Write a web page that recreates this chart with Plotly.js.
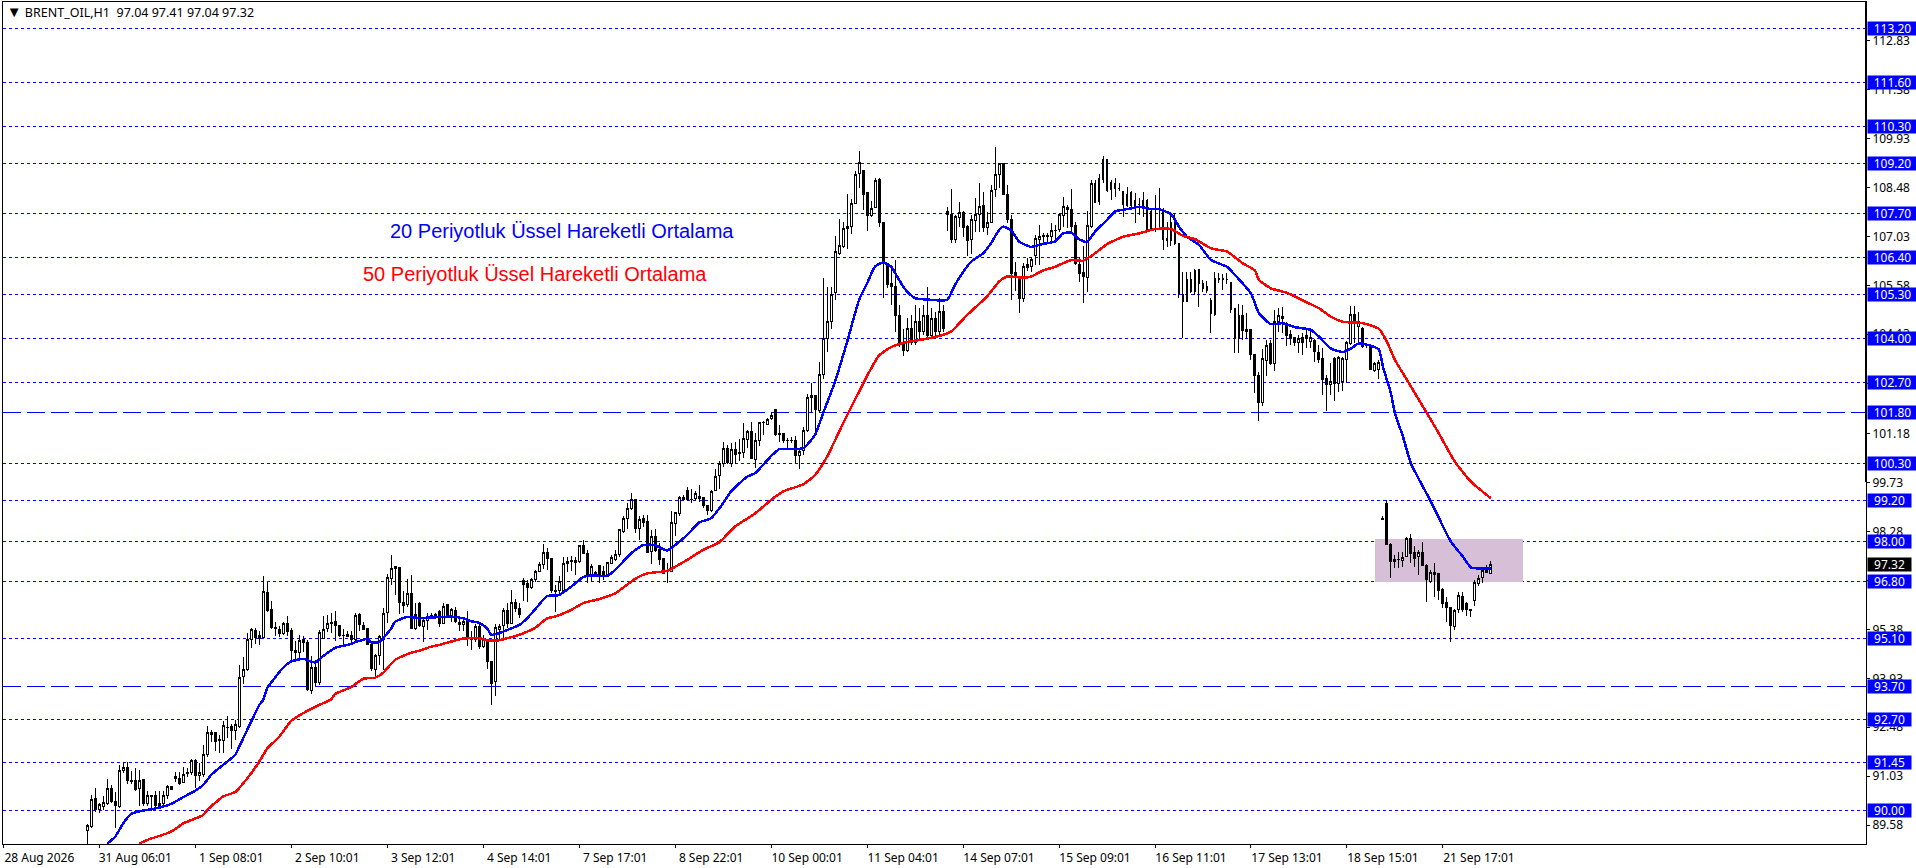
<!DOCTYPE html>
<html>
<head>
<meta charset="utf-8">
<script src="https://cdn.plot.ly/plotly-3.0.1.min.js"></script>
<style>html,body{margin:0;padding:0;background:#fff}#plot{width:1916px;height:868px}#plot svg path{shape-rendering:crispEdges!important}</style>
</head>
<body>
<div id="plot"></div>
<script>
// hourly bars, one block per time-axis label, rows are open, high, low, close
var firstBar = 21;
var barsAug28 = [[89.42,89.62,88.95,89.56],[89.54,90.47,89.5,90.35],[90.36,90.67,89.98,90.03]];
var barsAug31 = [[90.03,90.23,89.93,90.18],[90.13,90.45,90.03,90.26],[90.21,90.94,90.18,90.67],[90.67,90.77,90.23,90.28],[90.29,90.57,89.49,90.17],[90.13,91.37,90.1,91.2],[91.2,91.46,91.12,91.3],[91.3,91.46,90.8,90.9],[90.91,91.17,90.8,90.86],[90.89,91.27,90.58,90.64],[90.66,91.22,90.15,90.89],[90.92,90.94,90.16,90.21],[90.23,90.58,90.15,90.45],[90.42,90.48,90.01,90.45],[90.45,90.6,90.13,90.15],[90.23,90.6,90.13,90.17],[90.21,90.58,90.18,90.45],[90.47,90.77,90.35,90.71],[90.71,90.71,90.65,90.65],[91.01,91.15,90.87,90.96],[90.97,91.14,90.77,90.82],[90.84,91.3,90.84,91.09],[91.11,91.27,91.02,91.14],[91.14,91.53,91.07,91.51]];
var barsSep1 = [[91.51,91.55,90.67,91.04],[91.05,91.41,90.9,91.15],[91.09,91.96,91.02,91.68],[91.66,92.52,91.59,92.33],[92.34,92.4,92.03,92.27],[92.32,92.35,91.78,92.06],[92.13,92.26,91.73,92.1],[92.09,92.68,91.73,92.52],[92.46,92.82,92.16,92.47],[92.5,92.58,91.83,92.38],[92.38,92.7,92.11,92.55],[92.5,94.32,92.47,93.96],[93.98,94.56,93.77,94.2],[94.18,95.27,94.16,95.09],[95.09,95.43,94.82,95.37],[95.34,95.41,94.95,95.13],[95.19,95.32,94.92,95.1],[95.14,96.95,95.12,96.51],[96.49,96.8,95.91,95.93],[95.96,96.23,95.4,95.43],[95.44,95.61,95.19,95.42],[95.39,95.48,95.17,95.25],[95.25,95.59,95.22,95.55],[95.55,95.78,95.19,95.32]];
var barsSep2 = [[95.34,95.41,94.48,94.77],[94.77,95.04,94.48,94.71],[94.71,95.22,94.48,95.06],[95.07,95.19,94.72,95.0],[95.0,95.07,93.57,93.61],[93.57,94.58,93.47,94.26],[94.26,94.48,93.69,93.8],[93.82,95.35,93.74,95.3],[95.1,95.78,95.09,95.39],[95.41,95.81,95.29,95.56],[95.57,95.88,95.27,95.58],[95.61,95.93,95.04,95.51],[95.51,95.51,95.17,95.2],[95.2,95.39,94.89,95.19],[95.17,95.32,95.15,95.24],[95.2,95.32,94.97,95.09],[95.07,95.87,95.04,95.78],[95.81,95.86,95.32,95.53],[95.51,95.61,95.37,95.39],[95.4,95.41,94.92,94.93],[94.93,94.93,94.16,94.21],[94.2,94.64,93.96,94.61],[94.61,95.22,94.33,95.17],[95.07,96.01,94.18,95.86]];
var barsSep3 = [[95.88,97.02,95.58,96.93],[96.89,97.58,96.7,97.19],[97.24,97.26,96.4,97.2],[97.23,97.23,95.84,96.18],[96.19,96.52,95.86,96.09],[96.11,96.87,96.04,96.45],[96.45,97.0,95.38,95.41],[95.4,96.16,95.35,95.81],[96.16,96.2,95.45,95.49],[95.48,95.76,95.02,95.66],[95.64,95.86,95.37,95.74],[95.75,95.86,95.74,95.78],[95.83,95.88,95.74,95.8],[95.91,95.96,95.44,95.56],[95.56,96.17,95.54,96.06],[96.11,96.14,95.71,95.74],[95.76,96.01,95.61,95.98],[95.94,96.06,95.58,95.61],[95.59,95.76,95.32,95.53],[95.53,95.74,95.33,95.62],[95.61,95.93,94.9,95.12],[95.12,95.32,94.77,95.07],[95.07,95.53,95.02,95.48],[95.48,95.56,94.79,94.87]];
var barsSep4 = [[94.87,95.22,94.84,95.07],[95.07,95.07,94.2,94.43],[94.43,94.43,93.14,93.78],[93.85,95.53,93.4,95.43],[95.39,95.53,95.07,95.46],[95.49,96.01,95.07,95.93],[95.93,96.16,95.41,95.56],[95.56,96.55,95.53,96.18],[96.18,96.27,95.91,96.0],[96.01,96.16,95.73,95.83],[96.84,96.9,96.22,96.72],[96.75,96.85,96.2,96.61],[96.63,96.9,96.57,96.85],[96.87,97.14,96.8,97.11],[97.09,97.39,97.09,97.32],[97.31,97.91,97.16,97.67],[97.67,97.79,97.14,97.49],[97.49,97.49,96.45,96.53],[96.52,96.7,95.91,96.53],[96.53,96.95,96.45,96.8],[96.53,97.54,96.5,97.34],[97.34,97.54,97.09,97.4],[97.43,97.56,97.12,97.39],[97.43,97.54,96.99,97.37]];
var barsSep7 = [[97.38,97.89,97.34,97.87],[97.87,98.03,97.62,97.64],[97.62,97.74,96.75,96.95],[96.95,97.32,96.82,97.26],[96.99,97.11,96.95,97.06],[97.29,97.29,96.75,96.95],[97.09,97.26,96.85,96.95],[96.99,97.39,96.95,97.36],[97.34,97.59,97.32,97.5],[97.44,97.74,97.42,97.59],[97.59,98.35,97.54,98.33],[98.28,98.75,98.23,98.67],[98.66,99.14,98.35,98.97],[98.97,99.42,98.92,99.22],[99.22,99.22,98.25,98.36],[98.36,98.75,98.03,98.65],[98.66,98.77,98.43,98.55],[98.57,98.77,97.64,97.66],[97.69,98.33,97.32,98.15],[98.15,98.36,97.69,97.72],[97.74,97.93,97.29,97.44],[97.47,97.47,97.01,97.04],[97.12,97.34,96.77,97.09],[97.09,98.89,97.07,98.56]];
var barsSep8 = [[98.53,98.87,98.15,98.85],[98.82,99.34,98.74,99.28],[99.28,99.37,99.2,99.24],[99.49,99.6,99.2,99.22],[99.24,99.54,99.14,99.23],[99.27,99.47,99.2,99.4],[99.32,99.66,99.17,99.26],[99.28,99.3,98.97,99.05],[99.06,99.06,98.77,98.92],[98.9,99.52,98.87,99.48],[99.5,100.13,99.47,99.92],[99.94,100.36,99.55,100.31],[100.31,100.94,100.21,100.75],[100.75,100.85,100.29,100.33],[100.31,100.9,100.19,100.7],[100.72,100.93,100.29,100.58],[100.63,101.02,100.38,100.6],[100.63,101.49,100.45,101.05],[101.02,101.29,100.75,101.24],[101.26,101.54,100.42,100.45],[100.43,101.19,100.16,100.99],[100.99,101.54,100.83,101.52],[101.52,101.56,101.15,101.51],[101.47,101.66,101.44,101.61]];
var barsSep10 = [[101.62,101.82,101.59,101.71],[101.89,101.92,101.12,101.17],[101.19,101.44,100.95,101.17],[101.19,101.19,100.92,100.97],[100.98,101.05,100.75,100.97],[100.97,101.08,100.9,100.98],[100.97,101.1,100.31,100.53],[100.55,100.75,100.14,100.67],[100.68,101.37,100.55,101.27],[101.27,102.36,101.24,102.26],[102.26,102.68,101.79,102.31],[102.33,102.34,101.15,101.89],[101.87,103.3,101.8,102.95],[102.95,105.79,102.8,104.0],[104.0,105.52,103.6,104.5],[104.5,105.52,104.3,105.31],[105.36,107.04,105.15,106.59],[106.53,107.55,106.48,106.75],[106.73,107.45,106.68,107.27],[107.27,108.29,106.66,107.32],[107.32,108.13,107.09,108.01],[108.01,108.98,107.98,108.87],[108.9,109.56,108.46,109.23],[108.99,108.99,107.81,108.28]];
var barsSep11 = [[108.33,108.33,107.2,107.65],[107.65,108.08,107.6,107.86],[107.88,108.75,107.86,108.7],[108.73,108.75,107.32,107.44],[107.45,107.45,105.2,106.23],[106.18,106.23,105.49,105.62],[105.64,106.18,105.0,105.54],[105.54,106.33,104.2,104.7],[104.7,105.0,103.75,103.9],[103.9,104.3,103.5,103.65],[103.65,104.6,103.6,104.3],[104.3,104.7,103.8,103.9],[103.9,105.0,103.8,104.5],[104.5,104.9,104.0,104.2],[104.2,105.0,104.1,104.7],[104.7,105.52,103.95,104.1],[104.1,104.9,104.0,104.6],[104.6,104.8,104.0,104.2],[104.2,105.2,104.05,104.8],[104.8,105.0,104.2,104.3],[107.76,107.91,107.2,107.69],[107.67,108.43,106.83,106.93],[106.95,107.67,106.83,107.62],[107.59,108.04,107.32,107.75]];
var barsSep14 = [[107.74,107.78,107.0,107.29],[107.32,107.37,106.46,106.91],[106.93,107.67,106.51,107.54],[107.5,108.18,107.17,107.69],[107.67,108.6,107.17,107.93],[107.95,108.34,107.17,107.29],[107.29,107.76,107.07,107.45],[107.45,108.56,107.42,108.39],[108.41,109.69,108.21,108.88],[108.87,109.2,108.46,109.18],[109.18,109.18,108.26,108.28],[108.26,108.56,107.42,107.54],[107.54,107.67,105.15,105.92],[105.97,106.28,105.42,105.82],[105.82,105.82,104.75,105.2],[105.2,106.23,105.1,106.14],[106.2,106.38,106.02,106.11],[106.13,106.41,105.99,106.35],[106.46,107.07,106.18,106.97],[106.95,107.37,106.18,107.04],[107.05,107.12,106.83,107.04],[107.04,107.12,106.83,107.05],[107.03,107.42,106.83,107.22],[107.22,107.37,106.83,107.21]];
var barsSep15 = [[107.24,107.72,107.17,107.67],[107.65,108.21,107.32,107.93],[107.89,107.96,107.27,107.83],[107.83,108.43,107.12,107.32],[107.34,107.47,106.18,106.23],[106.21,106.43,105.69,105.94],[105.96,106.75,105.07,105.84],[105.82,107.78,105.39,107.34],[107.32,108.7,107.27,108.59],[108.6,108.7,108.01,108.04],[108.06,108.88,107.96,108.75],[108.72,109.42,108.6,109.32],[109.32,109.32,108.36,108.39],[108.43,108.7,108.11,108.63],[108.61,108.75,108.19,108.44],[108.46,108.6,108.39,108.45],[108.36,108.36,107.62,107.99],[107.96,108.49,107.91,108.26],[108.33,108.39,107.91,107.96],[108.09,108.33,107.44,107.96],[107.99,108.16,107.67,107.98],[107.96,108.36,107.62,108.09],[108.11,108.13,107.17,107.22],[107.25,107.86,107.19,107.78]];
var barsSep16 = [[107.83,108.26,107.17,107.84],[107.84,108.48,107.22,107.83],[107.83,107.86,106.63,106.95],[106.98,107.47,106.73,106.91],[106.91,107.67,106.75,107.45],[107.47,107.72,106.78,106.81],[106.81,106.83,105.2,105.33],[105.3,105.99,104.01,105.1],[105.1,105.99,105.08,105.74],[105.74,105.99,105.34,105.39],[105.41,106.06,105.3,106.02],[106.04,106.04,104.95,105.64],[105.64,105.74,105.39,105.5],[105.56,105.71,105.34,105.44],[105.13,105.2,104.18,104.75],[104.72,105.99,104.68,105.79],[105.76,105.94,105.64,105.79],[105.76,105.92,105.44,105.77],[105.76,105.96,105.62,105.75],[105.67,105.69,104.75,104.85],[104.9,104.9,103.58,104.01],[104.01,105.03,103.58,104.7],[104.68,105.0,103.96,104.23],[104.21,104.75,104.01,104.28]];
var barsSep17 = [[104.26,104.28,103.37,103.52],[103.52,103.52,102.4,102.9],[102.9,103.0,101.55,102.1],[102.1,103.7,102.0,103.4],[103.35,103.95,102.9,103.8],[103.86,103.96,103.22,103.27],[103.27,104.85,103.05,104.5],[104.5,104.9,104.21,104.7],[104.67,104.95,104.16,104.6],[104.41,104.5,103.78,104.08],[104.11,104.26,103.81,104.01],[104.04,104.06,103.78,103.9],[103.88,104.11,103.59,104.01],[104.04,104.16,103.52,103.9],[104.08,104.26,103.71,104.01],[103.91,104.26,103.71,104.04],[103.96,103.98,103.32,103.62],[103.59,103.81,103.27,103.39],[103.4,103.71,102.33,102.8],[102.83,102.92,101.87,102.63],[102.63,103.27,102.33,102.73],[103.42,103.45,102.16,102.68],[102.68,103.49,102.43,103.45],[102.73,103.45,102.45,103.4]];
var barsSep18 = [[103.37,103.93,102.68,103.89],[103.86,104.97,103.81,104.73],[104.73,104.97,103.86,104.5],[104.36,104.8,103.86,104.5],[104.31,104.36,103.71,103.76],[103.81,103.88,103.71,103.8],[103.78,103.81,103.07,103.09],[103.07,103.32,103.02,103.27],[103.09,103.37,102.8,103.29],[98.67,98.73,98.61,98.64],[99.1,99.21,97.87,97.91],[97.91,97.94,96.92,97.39],[97.46,97.59,97.19,97.39],[97.45,97.69,97.19,97.44],[97.41,97.69,97.24,97.52],[97.54,98.13,97.52,98.08],[98.08,98.21,97.34,97.64],[97.66,97.84,97.22,97.49],[97.54,97.74,96.99,97.66],[97.66,97.98,97.29,97.29],[97.29,97.32,96.18,96.85],[96.8,97.14,96.77,97.07],[97.08,97.36,96.33,97.0],[97.03,97.05,96.25,96.53]];
var barsSep21 = [[96.57,96.6,96.01,96.14],[96.18,96.35,95.59,96.04],[96.04,96.06,95.02,95.49],[95.47,95.98,95.37,95.94],[95.96,96.5,95.86,96.38],[96.35,96.5,95.91,95.96],[96.14,96.18,95.78,95.96],[95.98,95.98,95.76,95.94],[96.25,96.85,96.08,96.77],[96.73,97.0,96.67,96.9],[96.93,97.22,96.77,97.12],[97.14,97.29,97.05,97.07],[97.04,97.41,97.04,97.32]];

var ema20Bars = [26,28,30,32,34,37,40,42,45,48,50,52,55,58,59,62,64,65,66,68,70,72,75,78,80,83,86,89,91,92,94,95,97,98,101,104,108,112,115,117,119,121,122,124,127,129,131,133,136,139,142,145,147,151,153,157,160,163,166,168,171,174,177,180,182,186,188,192,194,200,203,205,208,211,214,216,218,220,222,224,226,228,231,236,238,240,242,245,247,249,250,252,254,257,260,263,265,267,269,271,273,276,278,282,284,287,289,292,294,296,299,302,306,308,312,314,317,320,323,327,329,332,335,337,339,342,344,345,347,348,350,352,357,362,365,367,372];
var ema20Values = [89.03,89.24,89.64,89.91,89.99,90.05,90.13,90.21,90.41,90.6,90.77,91.07,91.37,91.66,91.91,92.65,93.14,93.29,93.64,93.96,94.25,94.43,94.51,94.4,94.59,94.84,94.92,95.04,95.1,95.0,95.0,95.12,95.41,95.61,95.75,95.72,95.74,95.76,95.71,95.62,95.58,95.41,95.22,95.27,95.41,95.51,95.71,95.98,96.37,96.4,96.65,96.93,96.98,96.97,97.14,97.64,97.88,97.88,97.72,97.88,98.18,98.55,98.68,99.12,99.47,99.91,100.01,100.52,100.72,100.75,101.15,101.79,102.73,103.9,105.15,105.64,106.14,106.26,106.14,105.74,105.39,105.2,105.16,105.15,105.6,105.97,106.28,106.53,106.83,107.22,107.32,107.22,106.88,106.72,106.81,106.88,107.12,107.15,106.95,106.86,107.17,107.52,107.77,107.86,107.91,107.84,107.84,107.69,107.32,107.02,106.78,106.33,106.13,105.89,105.34,104.75,104.43,104.46,104.34,104.26,104.06,103.71,103.6,103.71,103.86,103.79,103.68,103.17,102.38,101.79,101.1,100.3,99.17,97.98,97.54,97.22,97.18];
var ema50Bars = [34,36,41,43,45,50,51,55,58,60,62,64,66,69,72,75,79,82,83,87,90,93,95,98,102,104,107,109,112,115,119,121,124,127,129,133,136,138,142,145,149,153,158,161,166,171,175,179,183,188,192,195,200,203,206,210,214,216,219,222,226,230,234,237,241,246,249,251,255,257,260,263,267,270,273,276,280,284,288,292,295,298,302,306,310,313,314,317,321,325,329,332,335,340,344,346,348,351,356,359,363,367,372];
var ema50Values = [89.03,89.14,89.34,89.46,89.63,89.88,90.03,90.43,90.56,90.82,91.12,91.46,91.85,92.2,92.67,92.9,93.14,93.31,93.47,93.67,93.92,93.95,94.1,94.48,94.69,94.75,94.87,94.92,95.02,95.11,95.12,95.06,95.06,95.15,95.22,95.43,95.71,95.76,95.96,96.16,96.28,96.45,96.88,97.04,97.12,97.44,97.74,97.96,98.43,98.82,99.22,99.47,99.68,99.96,100.5,101.49,102.43,102.9,103.5,103.75,103.9,103.98,104.08,104.21,104.7,105.25,105.69,105.84,105.81,105.84,106.02,106.13,106.33,106.31,106.53,106.8,107.02,107.12,107.25,107.25,107.05,106.95,106.68,106.58,106.23,106.02,105.74,105.49,105.36,105.13,104.9,104.65,104.5,104.46,104.29,103.91,103.37,102.78,101.79,101.19,100.35,99.76,99.27];

var timeTicks = [0,24,48,72,96,120,144,168,192,216,240,264,288,312,336,360];
var timeLabels = ['28 Aug 2026','31 Aug 06:01','1 Sep 08:01','2 Sep 10:01','3 Sep 12:01','4 Sep 14:01','7 Sep 17:01','8 Sep 22:01','10 Sep 00:01','11 Sep 04:01','14 Sep 07:01','15 Sep 09:01','16 Sep 11:01','17 Sep 13:01','18 Sep 15:01','21 Sep 17:01'];
var priceTicks = [112.83,111.38,109.93,108.48,107.03,105.58,104.13,102.68,101.18,99.73,98.28,96.83,95.38,93.93,92.48,91.03,89.58];
var dottedLevels = [113.20,111.60,110.30,109.20,107.70,106.40,105.30,104.00,102.70,100.30,99.20,98.00,96.80,95.10,92.70,91.45,90.00];
var dashedLevels = [101.80,93.70];
var lastPrice = 97.32;
var zoneBars = [342.9,379.9];
var zonePrices = [96.80,98.06];

var bars = [].concat(barsAug28,barsAug31,barsSep1,barsSep2,barsSep3,barsSep4,barsSep7,barsSep8,barsSep10,barsSep11,barsSep14,barsSep15,barsSep16,barsSep17,barsSep18,barsSep21);
var barIndex = bars.map(function(b,i){ return firstBar + i; });

var candles = {
    type: 'candlestick',
    x: barIndex,
    open: bars.map(function(b){ return b[0]; }),
    high: bars.map(function(b){ return b[1]; }),
    low: bars.map(function(b){ return b[2]; }),
    close: bars.map(function(b){ return b[3]; }),
    increasing: {line: {color: '#000', width: 1}, fillcolor: '#fff'},
    decreasing: {line: {color: '#000', width: 1}, fillcolor: '#000'},
    whiskerwidth: 0,
    hoverinfo: 'skip'
};
var ema20 = {type: 'scatter', mode: 'lines', x: ema20Bars, y: ema20Values, line: {color: '#0000ff', width: 2.5, shape: 'spline', smoothing: 0.5}, hoverinfo: 'skip'};
var ema50 = {type: 'scatter', mode: 'lines', x: ema50Bars, y: ema50Values, line: {color: '#ff0000', width: 2.5, shape: 'spline', smoothing: 0.5}, hoverinfo: 'skip'};

var shapes = [{
    type: 'rect', layer: 'below', xref: 'x', yref: 'y',
    x0: zoneBars[0], x1: zoneBars[1], y0: zonePrices[0], y1: zonePrices[1],
    fillcolor: '#d8bfd8', line: {width: 0}
}];
dottedLevels.forEach(function(p){
    shapes.push({type: 'line', layer: 'below', xref: 'paper', yref: 'y', x0: 0, x1: 1, y0: p, y1: p, line: {color: '#0000ff', width: 1, dash: '3px,3px'}});
});
dashedLevels.forEach(function(p){
    shapes.push({type: 'line', layer: 'below', xref: 'paper', yref: 'y', x0: 0, x1: 1, y0: p, y1: p, line: {color: '#0000ff', width: 1, dash: '18px,6px'}});
});
// heavier part of the price scale edge
shapes.push({type: 'line', xref: 'paper', yref: 'paper', x0: 1, x1: 1, y0: 0.43, y1: 1, line: {color: '#000', width: 2}});

function priceLabel(p, color){
    var txt = p.toFixed(2);
    return {
        xref: 'paper', yref: 'y', x: 1, y: p, xshift: 1, xanchor: 'left', yanchor: 'middle',
        text: txt, showarrow: false, align: 'center', bgcolor: color, borderpad: 0,
        width: txt.length > 5 ? 49 : 43, height: 13,
        font: {family: 'Noto Sans', size: 12, color: '#fff'}
    };
}
var annotations = dottedLevels.concat(dashedLevels).map(function(p){ return priceLabel(p, '#0000ff'); });
annotations.push(priceLabel(lastPrice, '#000'));
annotations.push({xref: 'x', yref: 'y', x: 96.1, y: 107.19, xanchor: 'left', showarrow: false, text: '20 Periyotluk Üssel Hareketli Ortalama', font: {family: 'Liberation Sans', size: 20, color: '#0000ff'}});
annotations.push({xref: 'x', yref: 'y', x: 89.4, y: 105.93, xanchor: 'left', showarrow: false, text: '50 Periyotluk Üssel Hareketli Ortalama', font: {family: 'Liberation Sans', size: 20, color: '#ff0000'}});

var layout = {
    width: 1916, height: 868,
    margin: {l: 3, r: 49.5, t: 2, b: 24, pad: 0},
    paper_bgcolor: '#fff', plot_bgcolor: '#fff',
    showlegend: false, dragmode: false, hovermode: false,
    title: {text: '<span style="font-size:15px">▼</span> BRENT_OIL,H1\u00A0\u00A097.04 97.41 97.04 97.32', x: 0.002, xanchor: 'left', xref: 'paper', y: 0.985, yanchor: 'middle', font: {family: 'Noto Sans', size: 12.5, color: '#000'}},
    xaxis: {
        range: [-0.08, 465.8], rangeslider: {visible: false}, showgrid: false, zeroline: false,
        tickmode: 'array', tickvals: timeTicks, ticktext: timeLabels, ticks: 'outside', ticklen: 3, tickcolor: '#000',
        ticklabelshift: 36, tickangle: 0,
        showline: true, linecolor: '#000', linewidth: 1, mirror: true,
        tickfont: {family: 'Noto Sans', size: 12, color: '#000'}
    },
    yaxis: {
        range: [89.02, 113.98], side: 'right', showgrid: false, zeroline: false,
        tickmode: 'array', tickvals: priceTicks, ticktext: priceTicks.map(function(p){ return p.toFixed(2); }),
        ticks: 'outside', ticklen: 3, tickcolor: '#000',
        showline: true, linecolor: '#000', linewidth: 1, mirror: true,
        tickfont: {family: 'Noto Sans', size: 12, color: '#000'}
    },
    shapes: shapes,
    annotations: annotations
};

Plotly.newPlot('plot', [candles, ema20, ema50], layout, {staticPlot: true, displayModeBar: false});
</script>
</body>
</html>
